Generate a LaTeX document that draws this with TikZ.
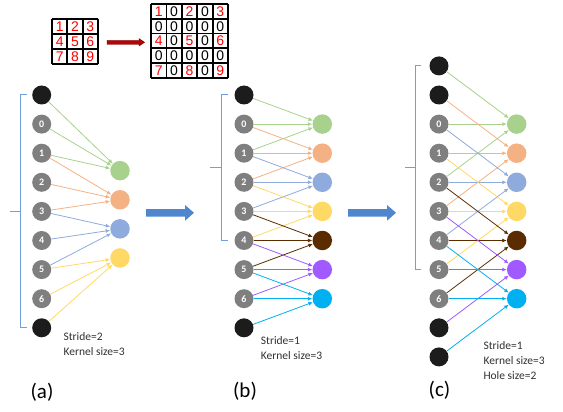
\documentclass[tikz,border=0pt]{standalone}
\usepackage{fontspec}
\setmainfont{Carlito}
\newfontfamily\arialfont{Liberation Sans}
\usetikzlibrary{arrows.meta}
\definecolor{cgreen}{HTML}{A9D18E}
\definecolor{corange}{HTML}{F4B183}
\definecolor{cblue}{HTML}{8FAADC}
\definecolor{cyellow}{HTML}{FFD966}
\definecolor{cbrown}{HTML}{5B2C00}
\definecolor{cpurple}{HTML}{A05AFF}
\definecolor{ccyan}{HTML}{00B0F0}
\definecolor{cgray}{HTML}{7F7F7F}
\definecolor{cblack}{HTML}{1C1C1C}
\definecolor{cbrace}{HTML}{6FA0DA}
\definecolor{carrow}{HTML}{4F86CD}
\definecolor{cnote}{HTML}{303030}
\definecolor{cred}{HTML}{FF0000}
\definecolor{cdarkred}{HTML}{C00000}
\begin{document}
\begin{tikzpicture}[x=1pt,y=-1pt,
 innode/.style={circle,fill=cgray,minimum size=19pt,inner sep=0pt,text=white,font=\bfseries\fontsize{10}{10}\selectfont},
 padnode/.style={circle,fill=cblack,minimum size=19pt,inner sep=0pt},
 outnode/.style={circle,minimum size=19.5pt,inner sep=0pt},
 conn/.style={line width=0.8pt,-{Latex[length=4.5pt,width=4pt]}},
 brace/.style={draw=cbrace,line width=1pt},
 bigarrow/.style={fill=carrow},
 note/.style={anchor=west,font=\fontsize{11.5}{11.5}\selectfont,inner sep=0pt,text=cnote,text height=1.5ex,text depth=0pt},
 panel/.style={font=\fontsize{21}{21}\selectfont,inner sep=0pt,text=black},
 cell/.style={font=\arialfont\fontsize{14}{14}\selectfont,inner sep=0pt},
 gridline/.style={line width=1.8pt,draw=black}]
\useasboundingbox (0,0) rectangle (563,412);

% ---------- top grids ----------
\foreach \t in {0,...,3} {
  \draw[gridline] ({52+15.333*\t},19) -- ({52+15.333*\t},64);
  \draw[gridline] (52,{19+15*\t}) -- (98,{19+15*\t});
}
\foreach \r in {0,1,2} \foreach \c in {0,1,2} {
  \pgfmathtruncatemacro\v{3*\r+\c+1}
  \node[cell,text=cred] (s-\r-\c) at ({52+15.333*(\c+0.5)},{19+15*(\r+0.5)}) {\v};
}
\foreach \t in {0,...,5} {
  \draw[gridline] ({151+15.4*\t},4) -- ({151+15.4*\t},78);
  \draw[gridline] (151,{4+14.8*\t}) -- (228,{4+14.8*\t});
}
\foreach \r in {0,...,4} \foreach \c in {0,...,4} {
  \pgfmathtruncatemacro\iseven{(mod(\r,2)==0 && mod(\c,2)==0) ? 1 : 0}
  \ifnum\iseven=1
    \pgfmathtruncatemacro\v{3*(\r/2)+\c/2+1}
    \node[cell,text=cred] (b-\r-\c) at ({151+15.4*(\c+0.5)},{4+14.8*(\r+0.5)}) {\v};
  \else
    \node[cell,text=black] (b-\r-\c) at ({151+15.4*(\c+0.5)},{4+14.8*(\r+0.5)}) {0};
  \fi
}
\fill[cdarkred,draw=black!60!cdarkred,line width=0.4pt] (107,40.3) -- (139,40.3) -- (139,38.6) -- (144.5,42.3) -- (139,46) -- (139,44.3) -- (107,44.3) -- cycle;

% ---------- panel (a) ----------
\node[padnode] (a-in-0) at (41.7,95) {};
\node[padnode] (a-in-8) at (41.7,{95+29.1*8}) {};
\foreach \i in {1,...,7} {
  \pgfmathtruncatemacro\lab{\i-1}
  \node[innode] (a-in-\i) at (41.7,{95+29.1*\i}) {\lab};
}
\foreach \k/\c in {0/cgreen,1/corange,2/cblue,3/cyellow} {
  \node[outnode,fill=\c] (a-out-\k) at (120,{95+29.1*(2.6+\k)}) {};
  \foreach \j in {0,1,2} {
    \pgfmathtruncatemacro\src{2*\k+\j}
    \draw[conn,draw=\c] (a-in-\src) -- (a-out-\k);
  }
}
\draw[brace] (27,95) -- (20,95) -- (20,327.8) -- (27,327.8);
\draw[brace] (20,211.4) -- (10,211.4);
\node[note] (a-n1) at (63.3,337.3) {Stride=2};
\node[note] (a-n2) at (63.3,352.3) {Kernel size=3};
\node[panel] (a-lab) at (42,392.5) {(a)};

% ---------- arrow (a)->(b) ----------
\fill[bigarrow] (146,209) -- (185,209) -- (185,205) -- (194,212.8) -- (185,220.7) -- (185,216.7) -- (146,216.7) -- cycle;

% ---------- panel (b) ----------
\node[padnode] (b-in-0) at (244,95) {};
\node[padnode] (b-in-8) at (244,{95+29.1*8}) {};
\foreach \i in {1,...,7} {
  \pgfmathtruncatemacro\lab{\i-1}
  \node[innode] (b-in-\i) at (244,{95+29.1*\i}) {\lab};
}
\foreach \k/\c in {0/cgreen,1/corange,2/cblue,3/cyellow,4/cbrown,5/cpurple,6/ccyan} {
  \node[outnode,fill=\c] (b-out-\k) at (322.3,{95+29.1*(1+\k)}) {};
  \foreach \j in {0,1,2} {
    \pgfmathtruncatemacro\src{\k+\j}
    \draw[conn,draw=\c] (b-in-\src) -- (b-out-\k);
  }
}
\draw[brace] (228,95) -- (221.7,95) -- (221.7,240.5) -- (228,240.5);
\draw[brace] (221.7,167.75) -- (210,167.75);
\node[note] (b-n1) at (260.7,341.2) {Stride=1};
\node[note] (b-n2) at (260.7,356) {Kernel size=3};
\node[panel] (b-lab) at (245,391.7) {(b)};

% ---------- arrow (b)->(c) ----------
\fill[bigarrow] (348,209) -- (387,209) -- (387,205) -- (396,212.8) -- (387,220.7) -- (387,216.7) -- (348,216.7) -- cycle;

% ---------- panel (c) ----------
\foreach \m in {0,1,9,10} {
  \node[padnode] (c-in-\m) at (439,{95+29.1*(\m-1)}) {};
}
\foreach \m in {2,...,8} {
  \pgfmathtruncatemacro\lab{\m-2}
  \node[innode] (c-in-\m) at (439,{95+29.1*(\m-1)}) {\lab};
}
\foreach \k/\c in {0/cgreen,1/corange,2/cblue,3/cyellow,4/cbrown,5/cpurple,6/ccyan} {
  \node[outnode,fill=\c] (c-out-\k) at (516.7,{95+29.1*(1+\k)}) {};
  \foreach \j in {0,1,2} {
    \pgfmathtruncatemacro\src{\k+2*\j}
    \draw[conn,draw=\c] (c-in-\src) -- (c-out-\k);
  }
}
\draw[brace] (421,65.9) -- (415,65.9) -- (415,269.6) -- (421,269.6);
\draw[brace] (415,167.75) -- (405,167.75);
\node[note] (c-n1) at (483.3,345.7) {Stride=1};
\node[note] (c-n2) at (483.3,361.2) {Kernel size=3};
\node[note] (c-n3) at (483.3,376.2) {Hole size=2};
\node[panel] (c-lab) at (439.5,390) {(c)};
\end{tikzpicture}
\end{document}
